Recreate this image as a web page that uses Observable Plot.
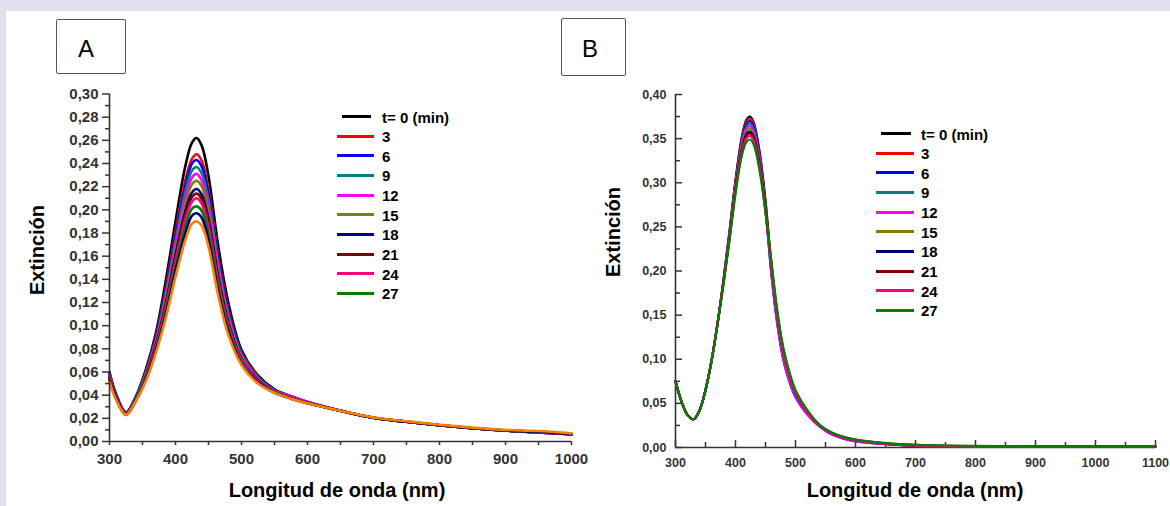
<!DOCTYPE html>
<html><head><meta charset="utf-8">
<script src="https://cdn.jsdelivr.net/npm/d3@7"></script>
<script src="https://cdn.jsdelivr.net/npm/@observablehq/plot@0.6"></script>
<style>
html,body{margin:0;padding:0;background:#e4dfec;}
#root{position:relative;width:1170px;height:506px;overflow:hidden;font-family:"Liberation Sans",Arial,sans-serif;}
#white{position:absolute;left:6px;top:11px;right:0;bottom:0;background:#fff;}
.panel{position:absolute;top:0;}
.panel svg{overflow:visible;background:transparent;}
#pa svg text{font:bold 15px "Liberation Sans",Arial,sans-serif;fill:#333;}
#pb svg text{font:bold 12.5px "Liberation Sans",Arial,sans-serif;fill:#333;}
.box{position:absolute;box-sizing:border-box;border:1.5px solid #555;border-radius:2px;background:#fff;}
.box span{position:absolute;font-size:24px;color:#000;transform:translate(-50%,-50%);line-height:1;}
.title{position:absolute;font-weight:bold;font-size:20px;color:#000;white-space:nowrap;line-height:1;}
.leg{position:absolute;font-weight:bold;font-size:15px;color:#000;white-space:nowrap;line-height:1;}
.legline{position:absolute;height:3px;}
</style></head>
<body><div id="root"><div id="white"></div>
<div id="pa" class="panel" style="left:0px"></div>
<div id="pb" class="panel" style="left:600px"></div>
</div>
<script>
// ---------- Panel A data ----------
const wlA = [300, 310, 325, 340, 355, 370, 385, 400, 415, 425, 432, 440, 450, 465, 480, 500, 525, 550, 575, 600, 650, 700, 750, 800, 850, 900, 950, 1000];
const A_t0  = [0.060,0.041,0.025,0.039,0.062,0.093,0.138,0.190,0.238,0.258,0.262,0.255,0.229,0.168,0.120,0.079,0.057,0.045,0.039,0.034,0.0265,0.0205,0.017,0.014,0.0115,0.0095,0.0078,0.0062];
const A_t3  = [0.058,0.040,0.025,0.038,0.060,0.090,0.132,0.181,0.226,0.244,0.248,0.242,0.217,0.160,0.115,0.077,0.056,0.044,0.039,0.034,0.0265,0.0205,0.017,0.014,0.0115,0.0095,0.0078,0.0062];
const A_t6  = [0.058,0.040,0.025,0.038,0.059,0.089,0.130,0.177,0.221,0.240,0.243,0.237,0.213,0.157,0.113,0.076,0.055,0.044,0.039,0.034,0.0265,0.0205,0.017,0.014,0.0115,0.0095,0.0078,0.0062];
const A_t9  = [0.057,0.039,0.024,0.038,0.059,0.087,0.127,0.173,0.216,0.234,0.237,0.231,0.208,0.153,0.110,0.075,0.055,0.044,0.039,0.034,0.0265,0.0205,0.017,0.014,0.0115,0.0095,0.0078,0.0062];
const A_t12 = [0.057,0.039,0.024,0.037,0.058,0.086,0.124,0.169,0.210,0.228,0.231,0.225,0.203,0.150,0.108,0.073,0.054,0.044,0.039,0.034,0.0265,0.0205,0.017,0.014,0.0115,0.0095,0.0078,0.0063];
const A_t15 = [0.056,0.038,0.024,0.037,0.057,0.084,0.122,0.165,0.205,0.222,0.225,0.220,0.198,0.146,0.106,0.072,0.053,0.043,0.038,0.0335,0.0265,0.0205,0.017,0.014,0.0115,0.0095,0.0080,0.0064];
const A_t18 = [0.055,0.038,0.024,0.037,0.056,0.083,0.118,0.161,0.199,0.215,0.218,0.213,0.192,0.142,0.103,0.071,0.053,0.043,0.038,0.0335,0.0265,0.0205,0.017,0.014,0.0115,0.0095,0.0080,0.0064];
const A_t21 = [0.055,0.038,0.024,0.036,0.055,0.082,0.117,0.158,0.195,0.211,0.214,0.209,0.188,0.139,0.101,0.070,0.052,0.043,0.038,0.0335,0.0265,0.0205,0.017,0.014,0.0115,0.0095,0.0082,0.0065];
const A_t24 = [0.054,0.037,0.024,0.036,0.055,0.081,0.115,0.155,0.192,0.207,0.210,0.205,0.185,0.137,0.100,0.070,0.052,0.043,0.038,0.0335,0.0265,0.0205,0.017,0.014,0.0115,0.0095,0.0082,0.0065];
const A_t27 = [0.053,0.037,0.023,0.036,0.054,0.079,0.112,0.151,0.186,0.201,0.203,0.199,0.179,0.133,0.097,0.068,0.051,0.043,0.037,0.033,0.0265,0.0205,0.017,0.014,0.0115,0.0095,0.0084,0.0066];
const A_t30 = [0.053,0.037,0.023,0.035,0.053,0.078,0.109,0.147,0.180,0.195,0.197,0.193,0.174,0.129,0.095,0.067,0.051,0.042,0.037,0.033,0.0265,0.0205,0.017,0.014,0.0115,0.0095,0.0084,0.0064];
const A_t33 = [0.052,0.036,0.023,0.035,0.052,0.076,0.106,0.142,0.174,0.188,0.190,0.186,0.168,0.125,0.092,0.066,0.050,0.042,0.037,0.033,0.0265,0.0207,0.0175,0.0145,0.012,0.010,0.0090,0.0070];
const seriesA = [A_t0,A_t3,A_t6,A_t9,A_t12,A_t15,A_t18,A_t21,A_t24,A_t27,A_t30,A_t33];
const colorsA = ["#000000","#ff0000","#0000ff","#008080","#ff00ff","#808000","#000080","#800000","#ff0080","#008000","#00007a","#ff8000"];

// ---------- Panel B data ----------
const wlB = [300,310,320,330,340,350,360,370,380,390,400,410,418,424,430,440,450,460,470,480,490,500,520,540,560,580,600,650,700,800,900,1000,1100];
const B_t0  = [0.075,0.052,0.037,0.032,0.042,0.065,0.098,0.140,0.190,0.245,0.303,0.350,0.371,0.375,0.369,0.336,0.280,0.205,0.148,0.107,0.081,0.062,0.040,0.025,0.016,0.011,0.008,0.004,0.002,0.001,0.001,0.001,0.001];
const B_t3  = [0.075,0.052,0.037,0.032,0.042,0.065,0.098,0.140,0.190,0.244,0.302,0.348,0.369,0.373,0.367,0.334,0.277,0.202,0.145,0.104,0.079,0.061,0.039,0.025,0.016,0.011,0.008,0.004,0.002,0.001,0.001,0.001,0.001];
const B_t6  = [0.075,0.052,0.037,0.032,0.042,0.065,0.098,0.140,0.189,0.243,0.300,0.346,0.366,0.370,0.364,0.332,0.272,0.195,0.138,0.098,0.074,0.057,0.037,0.024,0.015,0.010,0.007,0.004,0.002,0.001,0.001,0.001,0.001];
const B_t9  = [0.075,0.052,0.037,0.032,0.042,0.065,0.098,0.140,0.188,0.242,0.298,0.344,0.363,0.367,0.361,0.329,0.272,0.199,0.142,0.102,0.077,0.059,0.038,0.024,0.016,0.011,0.008,0.004,0.002,0.001,0.001,0.001,0.001];
const B_t12 = [0.075,0.052,0.037,0.032,0.042,0.065,0.098,0.140,0.188,0.241,0.296,0.341,0.361,0.364,0.358,0.327,0.269,0.196,0.139,0.099,0.075,0.058,0.037,0.024,0.015,0.010,0.007,0.004,0.002,0.001,0.001,0.001,0.001];
const B_t15 = [0.075,0.052,0.037,0.032,0.042,0.065,0.098,0.140,0.187,0.239,0.295,0.339,0.358,0.361,0.355,0.324,0.270,0.201,0.144,0.103,0.078,0.060,0.039,0.025,0.016,0.011,0.008,0.004,0.002,0.001,0.001,0.001,0.001];
const B_t18 = [0.075,0.052,0.037,0.032,0.042,0.065,0.098,0.140,0.187,0.238,0.293,0.336,0.355,0.358,0.353,0.322,0.269,0.203,0.146,0.105,0.080,0.061,0.040,0.025,0.016,0.011,0.008,0.004,0.002,0.001,0.001,0.001,0.001];
const B_t21 = [0.075,0.052,0.037,0.032,0.042,0.065,0.098,0.140,0.186,0.237,0.292,0.335,0.353,0.356,0.351,0.320,0.271,0.209,0.152,0.111,0.084,0.064,0.041,0.025,0.017,0.012,0.009,0.005,0.003,0.001,0.001,0.001,0.001];
const B_t24 = [0.075,0.052,0.037,0.032,0.042,0.065,0.098,0.140,0.186,0.236,0.290,0.332,0.350,0.353,0.348,0.317,0.266,0.204,0.147,0.106,0.080,0.062,0.040,0.025,0.016,0.011,0.008,0.004,0.002,0.001,0.001,0.001,0.001];
const B_t27 = [0.075,0.052,0.037,0.032,0.042,0.065,0.098,0.140,0.185,0.235,0.287,0.329,0.346,0.349,0.344,0.314,0.267,0.210,0.153,0.112,0.085,0.065,0.042,0.026,0.017,0.012,0.009,0.005,0.003,0.002,0.001,0.001,0.001];
const seriesB = [B_t0,B_t3,B_t6,B_t9,B_t12,B_t15,B_t18,B_t21,B_t24,B_t27];
const colorsB = ["#000000","#ff0000","#0000ff","#008080","#ff00ff","#808000","#000080","#800000","#ff0080","#008000"];

// ---------- ticks & labels ----------
const yTicksA = [0,0.02,0.04,0.06,0.08,0.10,0.12,0.14,0.16,0.18,0.20,0.22,0.24,0.26,0.28,0.30];
const yMinorA = [0.01,0.03,0.05,0.07,0.09,0.11,0.13,0.15,0.17,0.19,0.21,0.23,0.25,0.27,0.29];
const xTicksA = [300,400,500,600,700,800,900,1000];
const xMinorA = [350,450,550,650,750,850,950];
const yTicksB = [0,0.05,0.10,0.15,0.20,0.25,0.30,0.35,0.40];
const yMinorB = [0.025,0.075,0.125,0.175,0.225,0.275,0.325,0.375];
const xTicksB = [300,400,500,600,700,800,900,1000,1100];
const xMinorB = [350,450,550,650,750,850,950,1050];
const legendLabels = ["t= 0 (min)","3","6","9","12","15","18","21","24","27"];
const legendColors = ["#000000","#ff0000","#0000ff","#008080","#ff00ff","#808000","#000080","#800000","#ff0080","#008000"];
const xTitle = "Longitud de onda (nm)";
const yTitle = "Extinción";

const fmt = d => d.toFixed(2).replace(".", ",");
const fmtX = d => String(d);
const blank = () => "";
const toRows = (wl, vals) => wl.map((w, i) => ({wl: w, v: vals[i]}));

// ---------- Panel A ----------
const plotA = Plot.plot({
  width: 600, height: 506,
  marginLeft: 109, marginRight: 29, marginTop: 93.5, marginBottom: 65,
  x: {domain: [300, 1000], label: null},
  y: {domain: [0, 0.30], label: null},
  style: {background: "transparent", color: "#333", overflow: "visible"},
  marks: [
    ...seriesA.map((s, k) => Plot.line(toRows(wlA, s), {x: "wl", y: "v", stroke: colorsA[k], strokeWidth: 2.6, curve: "catmull-rom"})),
    Plot.axisY(yTicksA, {tickSize: 7, tickPadding: 4, tickFormat: fmt, strokeWidth: 1.5, label: null}),
    Plot.axisY(yMinorA, {tickSize: 4, tickPadding: 0, tickFormat: blank, strokeWidth: 1.5, label: null}),
    Plot.axisX(xTicksA, {tickSize: 4, tickPadding: 8, tickFormat: fmtX, strokeWidth: 1.5, label: null}),
    Plot.axisX(xMinorA, {tickSize: 4, tickPadding: 0, tickFormat: blank, strokeWidth: 1.5, label: null}),
    Plot.ruleX([300], {stroke: "#333", strokeWidth: 1.6}),
    Plot.ruleY([0], {stroke: "#333", strokeWidth: 1.6})
  ]
});
document.getElementById("pa").appendChild(plotA);

// ---------- Panel B ----------
const frameWB = 570 - 75 - 15, frameHB = 506 - 94 - 59;
const plotB = Plot.plot({
  width: 570, height: 506,
  marginLeft: 75, marginRight: 15, marginTop: 94, marginBottom: 59,
  x: {domain: [300, 1100], label: null},
  y: {domain: [0, 0.40], label: null},
  style: {background: "transparent", color: "#333", overflow: "visible"},
  marks: [
    Plot.tickY(yTicksB, {y: d => d, insetRight: frameWB - 7, stroke: "#333", strokeWidth: 1.5}),
    Plot.tickY(yMinorB, {y: d => d, insetRight: frameWB - 5, stroke: "#333", strokeWidth: 1.5}),
    Plot.tickX(xTicksB, {x: d => d, insetTop: frameHB - 7, stroke: "#333", strokeWidth: 1.5}),
    Plot.tickX(xMinorB, {x: d => d, insetTop: frameHB - 5, stroke: "#333", strokeWidth: 1.5}),
    Plot.axisY(yTicksB, {tickSize: 0, tickPadding: 9, tickFormat: fmt, label: null}),
    Plot.axisX(xTicksB, {tickSize: 0, tickPadding: 11, tickFormat: fmtX, label: null}),
    Plot.ruleX([300], {stroke: "#333", strokeWidth: 1.6}),
    Plot.ruleY([0], {stroke: "#333", strokeWidth: 1.6}),
    ...seriesB.map((s, k) => Plot.line(toRows(wlB, s), {x: "wl", y: "v", stroke: colorsB[k], strokeWidth: 2.2, curve: "catmull-rom"}))
  ]
});
document.getElementById("pb").appendChild(plotB);

// ---------- overlays: boxes, titles, legends ----------
const root = document.getElementById("root");
function add(html) { root.insertAdjacentHTML("beforeend", html); }
add(`<div class="box" style="left:56px;top:19px;width:70px;height:55px"><span style="left:29px;top:29px">A</span></div>`);
add(`<div class="box" style="left:561px;top:18px;width:65px;height:58px"><span style="left:28px;top:30px">B</span></div>`);
add(`<div class="title" style="left:337px;top:490px;transform:translate(-50%,-50%)">${xTitle}</div>`);
add(`<div class="title" style="left:915px;top:490px;transform:translate(-50%,-50%)">${xTitle}</div>`);
add(`<div class="title" style="left:37px;top:250px;transform:translate(-50%,-50%) rotate(-90deg)">${yTitle}</div>`);
add(`<div class="title" style="left:613px;top:232px;transform:translate(-50%,-50%) rotate(-90deg)">${yTitle}</div>`);
function legend(x0, x1, tx, y0) {
  legendLabels.forEach((lab, i) => {
    const y = y0 + i * 19.65;
    const a = i === 0 ? x0 + 5 : x0, b = i === 0 ? x1 - 3 : x1;
    add(`<div class="legline" style="left:${a}px;top:${Math.round(y - 1.5)}px;width:${b - a}px;background:${legendColors[i]}"></div>`);
    add(`<div class="leg" style="left:${tx}px;top:${Math.round(y)}px;transform:translateY(-50%)">${lab}</div>`);
  });
}
legend(337, 374, 382, 116.5);
legend(876, 914, 921, 133.5);
</script>
</body></html>
